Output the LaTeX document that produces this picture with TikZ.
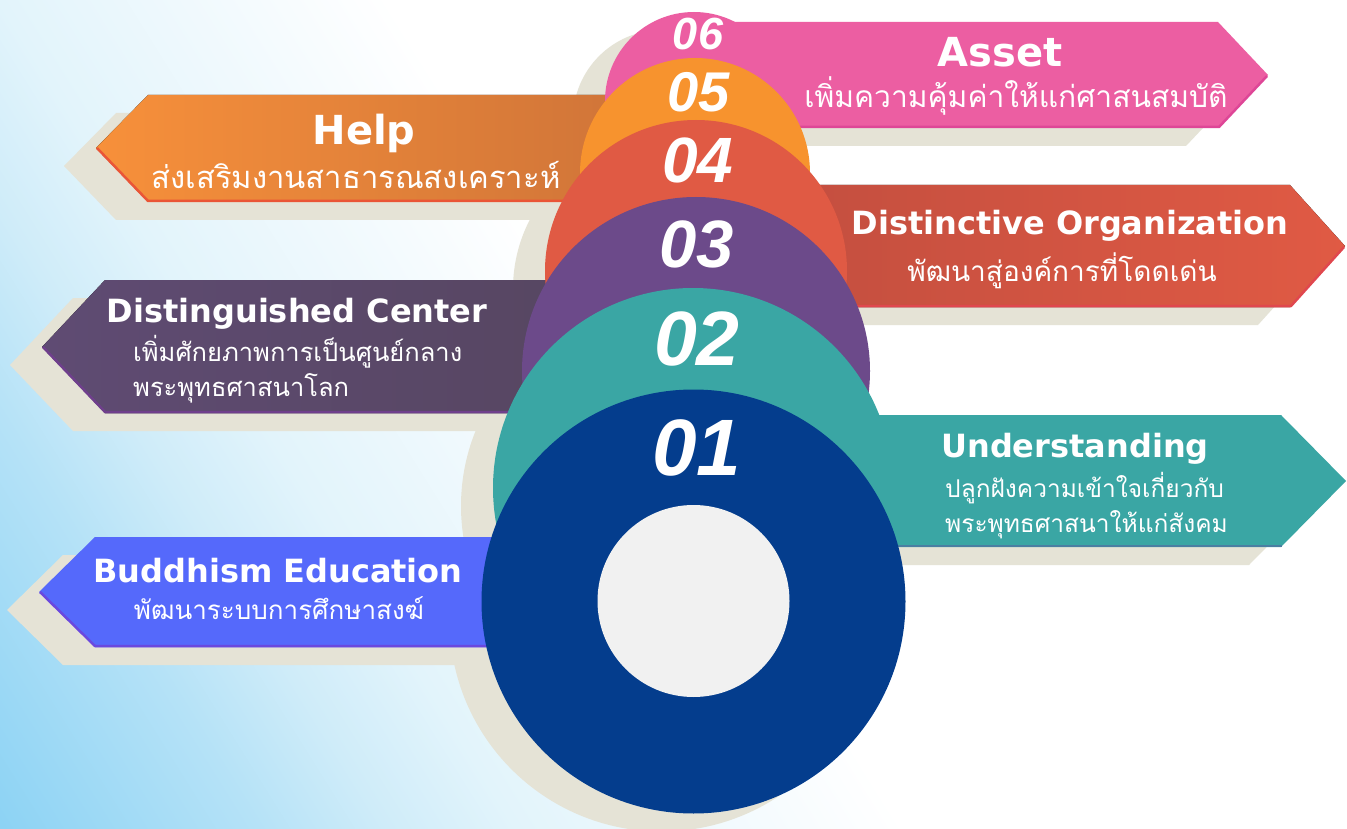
\documentclass[tikz,border=0pt]{standalone}
\usepackage{fontspec}
\newfontfamily\titlefont{DejaVu Sans}
\newfontfamily\numfont{Liberation Sans}
\newfontfamily\thaifont[Script=Thai]{Loma}

\definecolor{bgblue}{HTML}{8DD3F4}
\definecolor{bgone}{HTML}{B5E2F7}
\definecolor{bgtwo}{HTML}{CFECF9}
\definecolor{bgthree}{HTML}{E2F4FB}
\definecolor{bgfour}{HTML}{F5FBFE}
\definecolor{beige}{HTML}{E5E3D6}
\definecolor{pinkc}{HTML}{EC5EA2}
\definecolor{pinkedge}{HTML}{DE4697}
\definecolor{orangec}{HTML}{F7932E}
\definecolor{helpleft}{HTML}{F7903A}
\definecolor{helpright}{HTML}{CF7439}
\definecolor{helpedge}{HTML}{EA5536}
\definecolor{redc}{HTML}{E05A44}
\definecolor{distleft}{HTML}{C24E3F}
\definecolor{distedge}{HTML}{E0474E}
\definecolor{purplec}{HTML}{6C4A8A}
\definecolor{centerleft}{HTML}{5F4B73}
\definecolor{centerright}{HTML}{564660}
\definecolor{centeredge}{HTML}{6F3F8C}
\definecolor{tealc}{HTML}{3AA6A4}
\definecolor{tealedge}{HTML}{4A7FA2}
\definecolor{navyc}{HTML}{043D8D}
\definecolor{edublue}{HTML}{5569FB}
\definecolor{eduedge}{HTML}{6A48DE}
\definecolor{holec}{HTML}{F1F1F1}

\pgfdeclarehorizontalshading{bgshade}{100bp}{color(0bp)=(bgblue); color(15.6bp)=(bgblue); color(25bp)=(bgone); color(29.8bp)=(bgtwo); color(34.6bp)=(bgthree); color(44bp)=(bgfour); color(49bp)=(white); color(100bp)=(white)}

\tikzset{
  beigeshadow/.style={fill=beige, shift={(-32,18)}},
  edge/.style={draw=#1, line width=2.5pt, line join=round},
  title/.style={text=white, inner sep=0pt, anchor=base, font=\titlefont\bfseries\fontsize{32}{36}\selectfont},
  bigtitle/.style={title, font=\titlefont\bfseries\fontsize{40}{44}\selectfont},
  thai/.style={text=white, inner sep=0pt, anchor=base, font=\thaifont\fontsize{#1}{#1}\selectfont},
  thai/.default=26,
  num/.style={text=white, inner sep=0pt, font=\numfont\bfseries\itshape\fontsize{#1}{#1}\selectfont}
}

\begin{document}
\begin{tikzpicture}[x=1pt, y=-1pt]
  \useasboundingbox (0,0) rectangle (1347,829);
  \shade[shading=bgshade, shading angle=32] (0,0) rectangle (1347,829);

  % shadows
  \fill[beigeshadow] (700,22) -- (1218,22) -- (1268,75) -- (1218,128) -- (700,128) -- cycle;
  \fill[beigeshadow] (640,95) -- (148,95) -- (96,148) -- (148,202) -- (640,202) -- cycle;
  \fill[beigeshadow] (760,185) -- (1290,185) -- (1345,246) -- (1290,307) -- (760,307) -- cycle;
  \fill[beigeshadow] (620,280) -- (105,280) -- (42,347) -- (105,413) -- (620,413) -- cycle;
  \fill[beigeshadow] (800,415) -- (1281,415) -- (1346,481) -- (1281,547) -- (800,547) -- cycle;
  \fill[beigeshadow] (600,537) -- (95,537) -- (39,592) -- (95,647) -- (600,647) -- cycle;
  \fill[beigeshadow] (694,101) circle[radius=89pt];
  \fill[beigeshadow] (695,173) circle[radius=115pt];
  \fill[beigeshadow] (696,271) circle[radius=151pt];
  \fill[beigeshadow] (696,371) circle[radius=174pt];
  \fill[beigeshadow] (693,488) circle[radius=200pt];
  \fill[beigeshadow] (693.5,601.5) circle[radius=212pt];

  % banners
  \fill[pinkc] (700,22) -- (1218,22) -- (1268,75) -- (1218,128) -- (700,128) -- cycle;
  \draw[edge=pinkedge] (700,127) -- (1219,127) -- (1267,76);
  \fill[left color=helpleft, right color=helpright] (640,95) -- (148,95) -- (96,148) -- (148,202) -- (640,202) -- cycle;
  \draw[edge=helpedge] (97,148) -- (148,201) -- (640,201);
  \fill[left color=distleft, right color=redc] (760,185) -- (1290,185) -- (1345,246) -- (1290,307) -- (760,307) -- cycle;
  \draw[edge=distedge] (760,306) -- (1291,306) -- (1344,247);
  \fill[left color=centerleft, right color=centerright] (620,280) -- (105,280) -- (42,347) -- (105,413) -- (620,413) -- cycle;
  \draw[edge=centeredge] (43,347) -- (105,412) -- (620,412);
  \fill[tealc] (800,415) -- (1281,415) -- (1346,481) -- (1281,547) -- (800,547) -- cycle;
  \draw[edge=tealedge] (800,546) -- (1282,546);
  \fill[edublue] (600,537) -- (95,537) -- (39,592) -- (95,647) -- (600,647) -- cycle;
  \draw[edge=eduedge] (40,592) -- (95,646) -- (600,646);

  % stacked circles
  \fill[pinkc] (694,101) circle[radius=89pt];
  \fill[orangec] (695,173) circle[radius=115pt];
  \fill[redc] (696,271) circle[radius=151pt];
  \fill[purplec] (696,371) circle[radius=174pt];
  \fill[tealc] (693,488) circle[radius=200pt];
  \fill[navyc] (693.5,601.5) circle[radius=212pt];
  \fill[holec] (693.5,601) circle[radius=96pt];

  \node[num=45] (n6) at (698,34) {06};
  \node[num=56] (n5) at (699,92) {05};
  \node[num=64] (n4) at (698,160) {04};
  \node[num=67] (n3) at (697,244) {03};
  \node[num=77] (n2) at (697,339) {02};
  \node[num=80] (n1) at (697,448) {01};

  \node[bigtitle] (asset) at (1000,67) {Asset};
  \node[thai=30] (assetth) at (1016,108) {เพิ่มความคุ้มค่าให้แก่ศาสนสมบัติ};
  \node[bigtitle] (help) at (364,145) {Help};
  \node[thai=31] (helpth) at (356,189) {ส่งเสริมงานสาธารณสงเคราะห์};
  \node[title] (organization) at (1070,235) {Distinctive Organization};
  \node[thai=28] (organizationth) at (1062,281) {พัฒนาสู่องค์การที่โดดเด่น};
  \node[title] (center) at (297,322) {Distinguished Center};
  \node[thai=25.5, anchor=base west] (centerth) at (133,361) {เพิ่มศักยภาพการเป็นศูนย์กลาง};
  \node[thai=25.5, anchor=base west] (centerthb) at (133,396) {พระพุทธศาสนาโลก};
  \node[title] (understanding) at (1075,457) {Understanding};
  \node[thai=24.5, anchor=base west] (understandingth) at (945,497) {ปลูกฝังความเข้าใจเกี่ยวกับ};
  \node[thai=24.5, anchor=base west] (understandingthb) at (945,532) {พระพุทธศาสนาให้แก่สังคม};
  \node[title] (education) at (278,582) {Buddhism Education};
  \node[thai=26] (educationth) at (279,619) {พัฒนาระบบการศึกษาสงฆ์};
\end{tikzpicture}
\end{document}
